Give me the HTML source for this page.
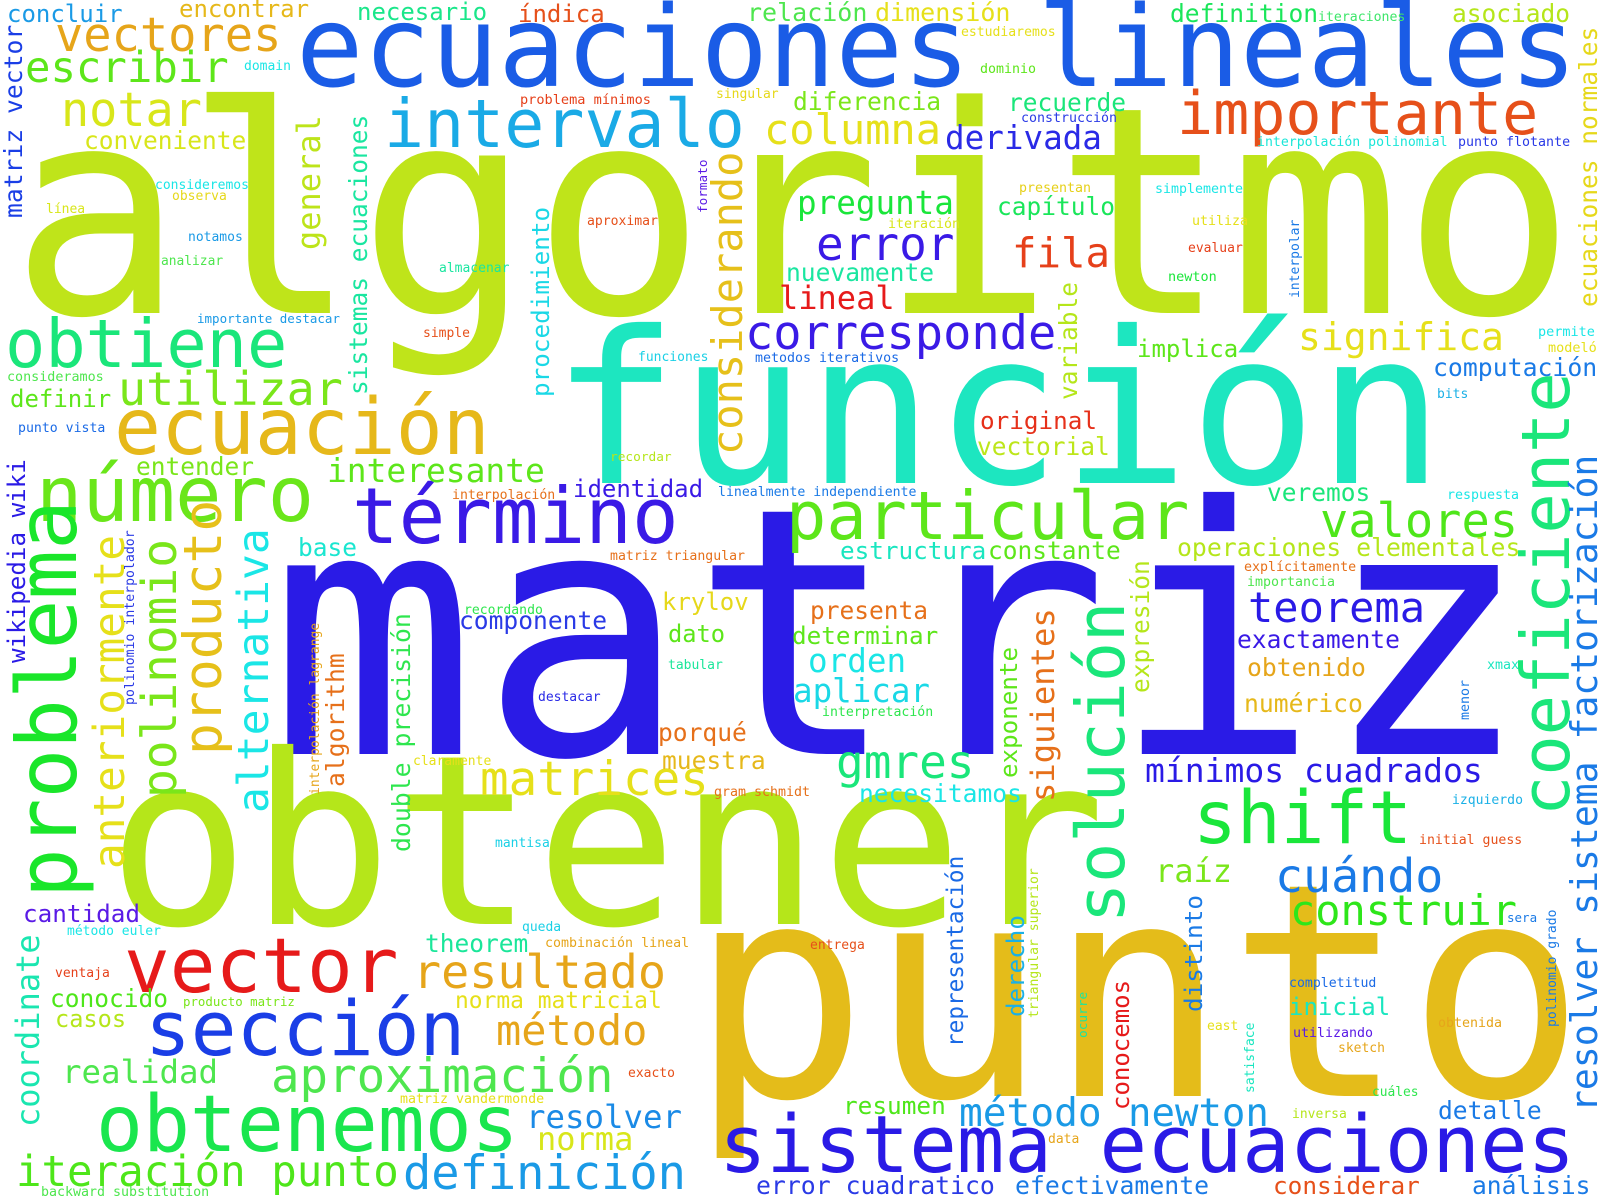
<!DOCTYPE html>
<html><head><meta charset="utf-8"><title>Word cloud</title>
<style>
html,body{margin:0;padding:0;background:#fff;}
#cloud{position:relative;width:1600px;height:1200px;overflow:hidden;background:#fff;}
#cloud span{position:absolute;white-space:pre;line-height:1;font-family:"DejaVu Sans Mono","Liberation Mono",monospace;}
#cloud span.v{transform-origin:0 0;transform:rotate(-90deg);}
</style></head>
<body>
<div id="cloud"></div>
<script>
// [text, x (or baseline x if vertical), baseline y (or bottom y if vertical), font size, color, vertical, letter-spacing]
const words = [
["algoritmo",10,314,289,"#bfe41a",0],
["matriz",269,755,345,"#2a1be6",0,3],
["obtener",107,925,237,"#b5e61a",0],
["punto",689,1097,298,"#e4bc1a",0],
["función",551,483,212,"#1de6c0",0],
["ecuaciones lineales",296,87,112,"#1a5ce6",0],
["intervalo",384,147,66.6,"#1aaae6",0],
["importante",1177,135,60,"#e6501a",0],
["obtiene",5,368,67,"#1ae67a",0],
["ecuación",114,455,78,"#e6b81a",0],
["número",36,522,77,"#6ae61a",0],
["término",352,545,77.5,"#3a1ae6",0],
["particular",786,540,67,"#5de61a",0],
["valores",1320,538,47,"#4ee61a",0],
["vector",124,992,76,"#e61a1a",0],
["sección",145,1055,76,"#1a3ee6",0],
["obtenemos",96,1152,78,"#1ae64e",0],
["sistema ecuaciones",719,1173,79,"#2a1ae6",0],
["iteración punto",16,1187,42.4,"#4ee61a",0],
["definición",403,1190,47,"#1a9ae6",0],
["aproximación",271,1093,47.4,"#4ee64e",0],
["resultado",413,990,46.7,"#e6a51a",0],
["método",496,1045,41.9,"#e6a51a",0],
["matrices",480,796,47.5,"#e6e01a",0],
["shift",1193,845,72.8,"#1ae63a",0],
["mínimos cuadrados",1145,782,33,"#2a1ae6",0],
["izquierdo",1452,805,13.1,"#1ab0e6",0],
["initial guess",1419,845,13.2,"#e6501a",0],
["raíz",1155,882,32,"#7ae61a",0],
["cuándo",1275,892,46.6,"#1a7ae6",0],
["construir",1290,925,41.9,"#2ee61a",0],
["sera",1507,923,12.5,"#1a7ae6",0],
["concluir",7,22,24,"#1a9ae6",0],
["encontrar",179,17,24,"#e6b81a",0],
["necesario",357,20,24,"#1ae68a",0],
["índica",518,22,24,"#e6501a",0],
["vectores",55,52,47,"#e6a51a",0],
["escribir",25,83,42.3,"#5de61a",0],
["notar",61,128,46.8,"#d8e61a",0],
["conveniente",84,150,24.5,"#d8e61a",0],
["domain",244,71,13,"#1ae6e6",0],
["consideremos",155,190,13,"#1ae6e6",0],
["observa",172,201,13,"#e6d81a",0],
["línea",46,214,13,"#d8e61a",0],
["notamos",188,242,13,"#1a9ae6",0],
["problema mínimos",520,106,13.6,"#e6401a",0],
["relación",747,21,25,"#4ee64e",0],
["dimensión",875,21,25,"#e6e01a",0],
["estudiaremos",961,37,13.1,"#e6e01a",0],
["dominio",980,74,13.3,"#5de61a",0],
["definition",1170,23,24.6,"#1ae65a",0],
["iteraciones",1318,22,13.2,"#3de66a",0],
["asociado",1452,23,24.5,"#b5e61a",0],
["interpolación polinomial",1257,147,13.2,"#1ae6d8",0],
["punto flotante",1458,147,13.3,"#2a3ae6",0],
["simplemente",1155,194,13.3,"#1ae6e6",0],
["utiliza",1192,226,13.3,"#e6e01a",0],
["evaluar",1188,253,13,"#e6401a",0],
["newton",1168,282,13.5,"#1ae63a",0],
["significa",1298,350,38,"#e6e01a",0],
["implica",1137,357,24,"#5de61a",0],
["permite",1538,337,13.5,"#1ae6e6",0],
["modeló",1548,353,13.5,"#e6e01a",0],
["computación",1433,377,24.8,"#1a7ae6",0],
["bits",1437,399,13,"#1ab0e6",0],
["veremos",1267,502,24.5,"#1ae67a",0],
["respuesta",1447,500,13.3,"#1ae6e6",0],
["operaciones elementales",1177,557,24.8,"#b5e61a",0],
["explícitamente",1244,572,13.3,"#e6701a",0],
["importancia",1247,587,13.3,"#4ee64e",0],
["teorema",1248,623,42,"#2a1ae6",0],
["exactamente",1237,649,24.6,"#3a1ae6",0],
["obtenido",1247,677,24.7,"#e6a51a",0],
["numérico",1244,713,24.7,"#e6b81a",0],
["xmax",1487,670,13.3,"#1ae6c0",0],
["completitud",1289,988,13.2,"#1a6ae6",0],
["inicial",1289,1015,24,"#1ae6c0",0],
["east",1207,1031,13,"#e6e01a",0],
["utilizando",1293,1038,13.3,"#5a1ae6",0],
["sketch",1338,1053,13,"#e6a51a",0],
["obtenida",1438,1028,13.3,"#e6a51a",0],
["cuáles",1372,1098,12.9,"#2ee64e",0],
["inversa",1292,1119,13,"#b5e61a",0],
["newton",1128,1127,39,"#1a9ae6",0],
["detalle",1438,1120,24.6,"#1a7ae6",0],
["considerar",1273,1195,24.4,"#e6501a",0],
["análisis",1472,1195,24.6,"#1a7ae6",0],
["efectivamente",1015,1195,24.8,"#1a7ae6",0],
["error cuadratico",756,1195,24.8,"#2a3ae6",0],
["necesitamos",859,803,24.6,"#1ae6e6",0],
["gram schmidt",714,797,13.3,"#e6701a",0],
["entrega",810,950,13,"#e6501a",0],
["resumen",843,1115,24.4,"#4ee61a",0],
["método",959,1127,39.5,"#1a9ae6",0],
["data",1048,1144,13,"#e6a51a",0],
["singular",716,99,13,"#e6d81a",0],
["diferencia",793,111,24.6,"#7ae61a",0],
["recuerde",1008,112,24.5,"#1ae67a",0],
["construcción",1021,123,13.3,"#2a3ae6",0],
["columna",764,145,42,"#e6e01a",0],
["derivada",945,150,32.6,"#2a2ae6",0],
["aproximar",587,226,13.1,"#e6501a",0],
["pregunta",797,215,32.6,"#1ae63a",0],
["capítulo",997,216,24.5,"#1ae65a",0],
["presentan",1019,193,13.3,"#e6d01a",0],
["iteración",888,229,13.3,"#d8e61a",0],
["error",816,260,46,"#3a1ae6",0],
["fila",1012,267,40.7,"#e6401a",0],
["nuevamente",786,282,24.6,"#1ae6a0",0],
["lineal",779,309,32,"#e61a1a",0],
["corresponde",745,350,47,"#3a1ae6",0],
["funciones",638,362,13,"#1ad0e6",0],
["metodos iterativos",755,363,13.3,"#1a6ae6",0],
["recordar",610,463,12.8,"#b5e61a",0],
["original",980,430,24.3,"#e6301a",0],
["vectorial",977,456,24.5,"#bde61a",0],
["identidad",573,497,24,"#3a1ae6",0],
["linealmente independiente",718,497,13.2,"#1a7ae6",0],
["matriz triangular",610,561,13.2,"#e6701a",0],
["estructura",840,560,24.3,"#1ae6c0",0],
["constante",988,560,24.5,"#5de61a",0],
["krylov",662,610,24,"#e6d81a",0],
["presenta",810,620,24.5,"#e6701a",0],
["dato",668,643,23.7,"#5de61a",0],
["determinar",792,645,24.3,"#5de61a",0],
["orden",808,673,32.6,"#1ae6e6",0],
["aplicar",793,702,32.5,"#1ad8e6",0],
["tabular",668,670,13,"#1ae69a",0],
["destacar",538,702,13,"#2a2ae6",0],
["interpretación",822,717,13.2,"#2ee64e",0],
["porqué",658,742,24.6,"#e6701a",0],
["muestra",662,770,24.6,"#e6b81a",0],
["gmres",836,778,46,"#1ae67a",0],
["analizar",161,267,12.9,"#4ee64e",0],
["almacenar",439,273,13,"#1ae6a0",0],
["importante destacar",197,324,12.5,"#1a9ae6",0],
["simple",423,338,13,"#e6501a",0],
["consideramos",7,382,13.4,"#4ee64e",0],
["definir",10,407,24,"#5de61a",0],
["utilizar",118,407,46.7,"#7ae61a",0],
["punto vista",18,433,13.2,"#1a6ae6",0],
["entender",136,476,24.5,"#7ae61a",0],
["interesante",327,483,32.9,"#5de61a",0],
["interpolación",452,500,13.2,"#e6701a",0],
["base",298,557,24.5,"#1ae6d0",0],
["recordando",464,615,13.1,"#2ee64e",0],
["componente",459,630,24.6,"#2a3ae6",0],
["claramente",413,766,13,"#e6e01a",0],
["mantisa",495,848,13,"#1ad0e6",0],
["cantidad",23,923,24.3,"#5a1ae6",0],
["método euler",67,936,13,"#1ae6e6",0],
["theorem",425,953,24.5,"#1ae69a",0],
["queda",522,932,13,"#1ad0e6",0],
["combinación lineal",545,948,13.3,"#e6a51a",0],
["ventaja",55,978,13,"#e6401a",0],
["conocido",50,1008,24.5,"#4ee61a",0],
["producto matriz",183,1006,12.4,"#7ae61a",0],
["norma matricial",455,1009,22.9,"#e6e01a",0],
["casos",55,1028,23.6,"#b5e61a",0],
["realidad",62,1083,32.4,"#4ee64e",0],
["exacto",628,1078,13,"#e6501a",0],
["matriz vandermonde",400,1104,13.3,"#e6e01a",0],
["resolver",526,1128,32.4,"#1a8ae6",0],
["norma",537,1150,32,"#d8e61a",0],
["backward substitution",41,1197,13.3,"#4ee64e",0],
// vertical words: [text, baseline x, bottom y, size, color, 1]
["matriz vector",23,218,24.7,"#1a3ee6",1],
["general",320,250,32,"#bde41a",1],
["sistemas ecuaciones",368,395,24.5,"#1ae6a0",1],
["procedimiento",550,397,24.3,"#1ad8e6",1],
["formato",708,213,12.7,"#5a1ae6",1],
["considerando",743,455,42,"#e6c01a",1],
["variable",1078,400,24.5,"#b5e61a",1],
["interpolar",1300,298,13,"#1a7ae6",1],
["ecuaciones normales",1598,307,24.5,"#e6d81a",1],
["coeficiente",1570,816,67,"#1ae67a",1],
["resolver sistema factorización",1598,1112,36.4,"#1a7ae6",1],
["menor",1470,720,13.3,"#1a7ae6",1],
["expresión",1150,693,24.5,"#b5e61a",1],
["polinomio grado",1557,1027,13,"#1a7ae6",1],
["distinto",1203,1012,24.3,"#1a7ae6",1],
["conocemos",1129,1110,24,"#e61a1a",1],
["satisface",1255,1093,13,"#1ae6c0",1],
["representación",964,1047,22.7,"#1a6ae6",1],
["derecho",1024,1017,24.2,"#1ab0e6",1],
["triangular superior",1039,1018,13.1,"#b5e61a",1],
["ocurre",1089,1038,12.8,"#1ae6a0",1],
["exponente",1017,778,24.2,"#5de61a",1],
["siguientes",1054,802,32.2,"#e6701a",1],
["solución",1124,923,66.7,"#1ae67a",1],
["wikipedia wiki",25,663,24.2,"#2a1ae6",1],
["problema",77,898,82.6,"#1ae62a",1],
["anteriormente",125,869,42.7,"#e6e01a",1],
["polinomio interpolador",135,705,13.2,"#2a3ae6",1],
["polinomio",177,798,47.8,"#7ae61a",1],
["producto",222,755,53,"#e6c01a",1],
["alternativa",269,813,43,"#1ae6e6",1],
["algorithm",345,787,24.7,"#e6701a",1],
["interpolación lagrange",320,795,13,"#e6a51a",1],
["double precisión",411,852,24.8,"#2ee64e",1],
["coordinate",39,1127,32,"#1ae6b0",1]
];
const BASE = 0.846;
const cloud = document.getElementById('cloud');
words.forEach(function (w) {
  const el = document.createElement('span');
  el.textContent = w[0];
  const s = w[3];
  el.style.fontSize = s + 'px';
  el.style.color = w[4];
  if (w[6]) el.style.letterSpacing = w[6] + 'px';
  if (w[5]) {
    el.className = 'v';
    el.style.left = (w[1] - BASE * s) + 'px';
    el.style.top = w[2] + 'px';
  } else {
    el.style.left = w[1] + 'px';
    el.style.top = (w[2] - BASE * s) + 'px';
  }
  
  
  cloud.appendChild(el);
});
</script>
</body></html>
